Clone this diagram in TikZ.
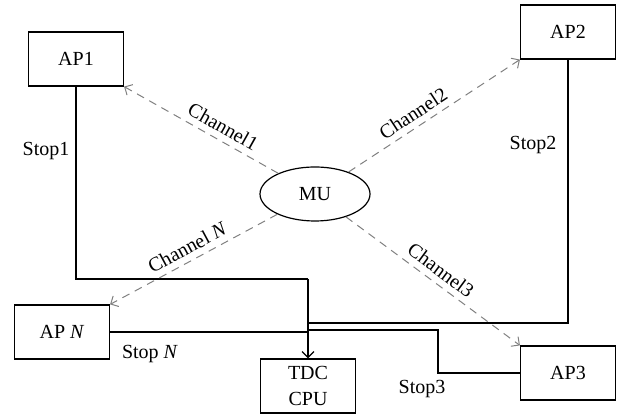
\documentclass[tikz,border=0pt]{standalone}
\usepackage{fontspec}
\setmainfont{Liberation Serif}
\usetikzlibrary{shapes.geometric,arrows.meta}

\tikzset{
  apbox/.style={draw, line width=0.6pt, minimum width=47.5pt, minimum height=27pt, inner sep=0pt, align=center},
  stopline/.style={line width=0.6pt},
  chanline/.style={gray, dashed, dash pattern=on 4pt off 3pt, line width=0.5pt, -{Straight Barb[length=3pt,width=6pt]}},
  chanlabel/.style={sloped, above, black, inner sep=3pt},
}

\begin{document}
\begin{tikzpicture}[x=0.5pt, y=-0.5pt, font=\fontsize{10}{12}\selectfont]
\useasboundingbox (0,0) rectangle (619,415);

% access points and the unit
\node[apbox] (ap1) at (76,59) {AP1};
\node[apbox] (ap2) at (568,32) {AP2};
\node[apbox] (apn) at (62,332) {AP \textit{N}};
\node[apbox] (ap3) at (568,373) {AP3};
\node[apbox] (tdc) at (308,386) {TDC\\[1pt]CPU};
\node[draw, ellipse, line width=0.6pt, minimum width=55pt, minimum height=27pt, inner sep=0pt] (mu) at (315,194) {MU};

% stop lines
\coordinate (j1) at (308,279);
\coordinate (j2) at (308,323);
\coordinate (j3) at (438,330);

\draw[stopline] (ap1.south) |- (j1);
\draw[stopline, -{Straight Barb[length=3pt,width=6pt]}] (j1) -- (tdc.north);
\draw[stopline] (apn.east) -- (apn.east -| tdc.north);
\draw[stopline] (ap2.south) |- (j2);
\draw[stopline] (ap3.west) -| (j3) -- (j3 -| tdc.north);

\node (stop1) at (46,151) {Stop1};
\node (stop2) at (533,145) {Stop2};
\node (stopn) at (150,354) {Stop \textit{N}};
\node (stop3) at (422,389) {Stop3};

% channels
\draw[chanline] (mu) -- (ap1.south east) node[chanlabel, pos=0.4] {Channel1};
\draw[chanline] (mu) -- (ap2.south west) node[chanlabel, pos=0.42] {Channel2};
\draw[chanline] (mu) -- (apn.north east) node[chanlabel, pos=0.5] {Channel \textit{N}};
\draw[chanline] (mu) -- (ap3.north west) node[chanlabel, pos=0.5] {Channel3};

\end{tikzpicture}
\end{document}
